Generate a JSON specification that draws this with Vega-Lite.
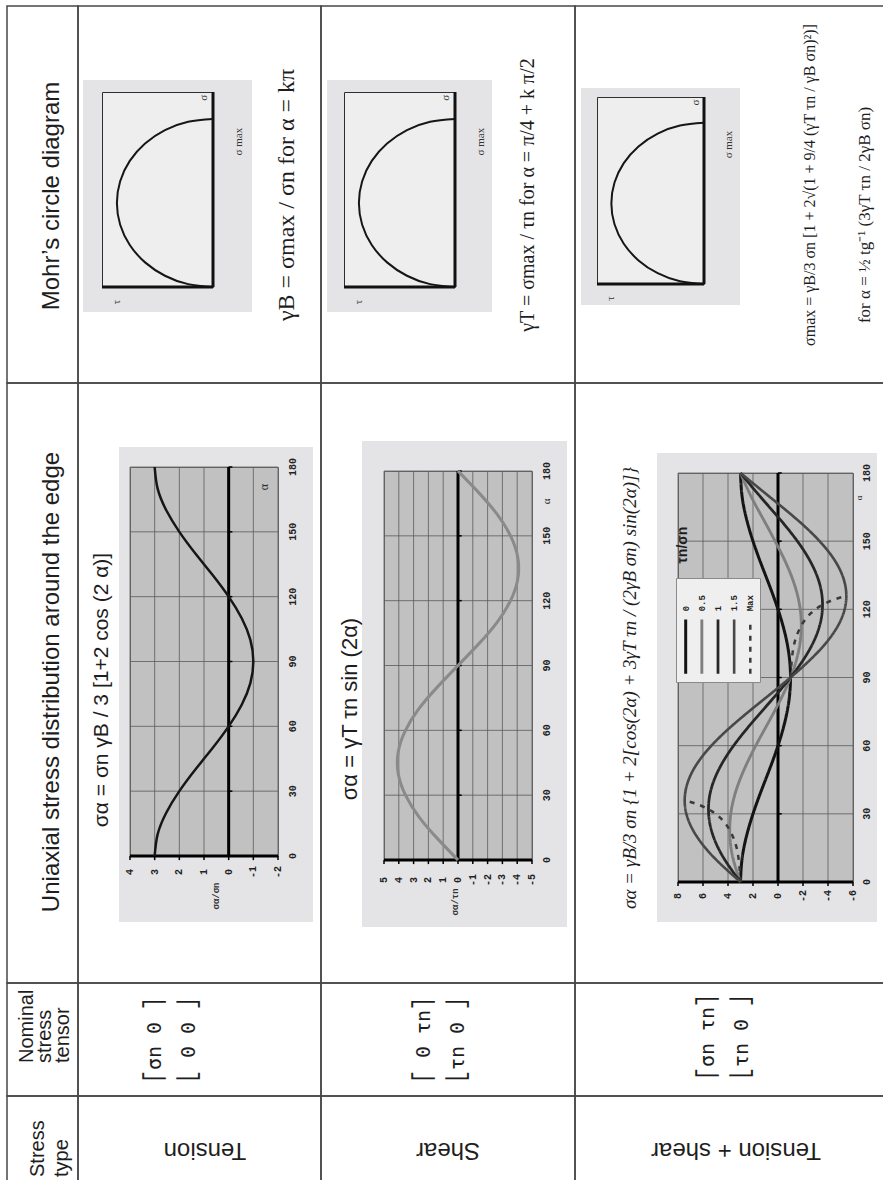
{
"$schema":"https://vega.github.io/schema/vega-lite/v6.json",
"padding":0,
"background":"white",
"config":{"view":{"stroke":null},"font":"Liberation Sans"},
"datasets":{
"e":[],
"g1":[{"v":-2},{"v":-1},{"v":0},{"v":1},{"v":2},{"v":3},{"v":4}],
"g2":[{"v":-5},{"v":-4},{"v":-3},{"v":-2},{"v":-1},{"v":0},{"v":1},{"v":2},{"v":3},{"v":4},{"v":5}],
"g3":[{"v":-6},{"v":-4},{"v":-2},{"v":0},{"v":2},{"v":4},{"v":6},{"v":8}],
"gh":[{"h":0},{"h":30},{"h":60},{"h":90},{"h":120},{"h":150},{"h":180}],
"mohr":[{"t":0,"s":0},{"t":0.259,"s":0.034},{"t":0.5,"s":0.134},{"t":0.707,"s":0.293},{"t":0.866,"s":0.5},{"t":0.966,"s":0.741},{"t":1,"s":1},{"t":0.966,"s":1.259},{"t":0.866,"s":1.5},{"t":0.707,"s":1.707},{"t":0.5,"s":1.866},{"t":0.259,"s":1.966},{"t":0,"s":2}],
"ten":[{"a":0,"s":3},{"a":10,"s":2.88},{"a":20,"s":2.53},{"a":30,"s":2},{"a":40,"s":1.35},{"a":50,"s":0.65},{"a":60,"s":0},{"a":70,"s":-0.53},{"a":80,"s":-0.88},{"a":90,"s":-1},{"a":100,"s":-0.88},{"a":110,"s":-0.53},{"a":120,"s":0},{"a":130,"s":0.65},{"a":140,"s":1.35},{"a":150,"s":2},{"a":160,"s":2.53},{"a":170,"s":2.88},{"a":180,"s":3}],
"shr":[{"a":0,"s":0},{"a":10,"s":1.4},{"a":20,"s":2.64},{"a":30,"s":3.55},{"a":40,"s":4.04},{"a":50,"s":4.04},{"a":60,"s":3.55},{"a":70,"s":2.64},{"a":80,"s":1.4},{"a":90,"s":0},{"a":100,"s":-1.4},{"a":110,"s":-2.64},{"a":120,"s":-3.55},{"a":130,"s":-4.04},{"a":140,"s":-4.04},{"a":150,"s":-3.55},{"a":160,"s":-2.64},{"a":170,"s":-1.4},{"a":180,"s":0}],
"ts":[
{"r":"0","a":0,"s":3},{"r":"0","a":10,"s":2.88},{"r":"0","a":20,"s":2.53},{"r":"0","a":30,"s":2},{"r":"0","a":40,"s":1.35},{"r":"0","a":50,"s":0.65},{"r":"0","a":60,"s":0},{"r":"0","a":70,"s":-0.53},{"r":"0","a":80,"s":-0.88},{"r":"0","a":90,"s":-1},{"r":"0","a":100,"s":-0.88},{"r":"0","a":110,"s":-0.53},{"r":"0","a":120,"s":0},{"r":"0","a":130,"s":0.65},{"r":"0","a":140,"s":1.35},{"r":"0","a":150,"s":2},{"r":"0","a":160,"s":2.53},{"r":"0","a":170,"s":2.88},{"r":"0","a":180,"s":3},
{"r":"0.5","a":0,"s":3},{"r":"0.5","a":10,"s":3.58},{"r":"0.5","a":20,"s":3.85},{"r":"0.5","a":30,"s":3.78},{"r":"0.5","a":40,"s":3.37},{"r":"0.5","a":50,"s":2.67},{"r":"0.5","a":60,"s":1.78},{"r":"0.5","a":70,"s":0.79},{"r":"0.5","a":80,"s":-0.18},{"r":"0.5","a":90,"s":-1},{"r":"0.5","a":100,"s":-1.58},{"r":"0.5","a":110,"s":-1.85},{"r":"0.5","a":120,"s":-1.78},{"r":"0.5","a":130,"s":-1.37},{"r":"0.5","a":140,"s":-0.67},{"r":"0.5","a":150,"s":0.23},{"r":"0.5","a":160,"s":1.21},{"r":"0.5","a":170,"s":2.18},{"r":"0.5","a":180,"s":3},
{"r":"1","a":0,"s":3},{"r":"1","a":10,"s":4.28},{"r":"1","a":20,"s":5.17},{"r":"1","a":30,"s":5.55},{"r":"1","a":40,"s":5.39},{"r":"1","a":50,"s":4.69},{"r":"1","a":60,"s":3.55},{"r":"1","a":70,"s":2.1},{"r":"1","a":80,"s":0.52},{"r":"1","a":90,"s":-1},{"r":"1","a":100,"s":-2.28},{"r":"1","a":110,"s":-3.17},{"r":"1","a":120,"s":-3.55},{"r":"1","a":130,"s":-3.39},{"r":"1","a":140,"s":-2.69},{"r":"1","a":150,"s":-1.55},{"r":"1","a":160,"s":-0.1},{"r":"1","a":170,"s":1.48},{"r":"1","a":180,"s":3},
{"r":"1.5","a":0,"s":3},{"r":"1.5","a":10,"s":4.98},{"r":"1.5","a":20,"s":6.49},{"r":"1.5","a":30,"s":7.33},{"r":"1.5","a":40,"s":7.4},{"r":"1.5","a":50,"s":6.71},{"r":"1.5","a":60,"s":5.33},{"r":"1.5","a":70,"s":3.42},{"r":"1.5","a":80,"s":1.22},{"r":"1.5","a":90,"s":-1},{"r":"1.5","a":100,"s":-2.98},{"r":"1.5","a":110,"s":-4.49},{"r":"1.5","a":120,"s":-5.33},{"r":"1.5","a":130,"s":-5.4},{"r":"1.5","a":140,"s":-4.71},{"r":"1.5","a":150,"s":-3.33},{"r":"1.5","a":160,"s":-1.42},{"r":"1.5","a":170,"s":0.78},{"r":"1.5","a":180,"s":3},
{"r":"Max","b":1,"a":0,"s":3},{"r":"Max","b":1,"a":13.3,"s":3.24},{"r":"Max","b":1,"a":22.5,"s":3.83},{"r":"Max","b":1,"a":28.2,"s":4.61},{"r":"Max","b":1,"a":31.7,"s":5.47},{"r":"Max","b":1,"a":34.1,"s":6.39},{"r":"Max","b":1,"a":36,"s":7.47},
{"r":"Max","b":2,"a":90,"s":-1},{"r":"Max","b":2,"a":103.3,"s":-1.24},{"r":"Max","b":2,"a":112.5,"s":-1.83},{"r":"Max","b":2,"a":118.2,"s":-2.61},{"r":"Max","b":2,"a":121.7,"s":-3.47},{"r":"Max","b":2,"a":124.1,"s":-4.39},{"r":"Max","b":2,"a":126,"s":-5.47}],
"leg":[{"r":"0"},{"r":"0.5"},{"r":"1"},{"r":"1.5"},{"r":"Max"}]
},
"vconcat":[
{"hconcat":[{"data":{"name":"e"},"mark":"point","width":7,"height":1},{"vconcat":[{"data":{"name":"e"},"mark":"point","width":1,"height":6},
 {"vconcat":[
  {"data":{"name":"e"},"mark":"point","width":71,"height":377,"view":{"stroke":"#474747","strokeWidth":1.5}},
  {"data":{"name":"e"},"mark":"point","width":71,"height":600,"view":{"stroke":"#474747","strokeWidth":1.5}},
  {"data":{"name":"e"},"mark":"point","width":71,"height":113,"view":{"stroke":"#474747","strokeWidth":1.5}},
  {"data":{"name":"e"},"mark":"point","width":71,"height":120,"view":{"stroke":"#474747","strokeWidth":1.5}}],"spacing":0,"bounds":"flush"}],"spacing":0,"bounds":"flush"}],"spacing":0,"bounds":"flush"},
{"hconcat":[{"data":{"name":"e"},"mark":"point","width":78,"height":1},{"vconcat":[{"data":{"name":"e"},"mark":"point","width":1,"height":6},
 {"vconcat":[
  {"data":{"name":"e"},"mark":"point","width":243,"height":377,"view":{"stroke":"#474747","strokeWidth":1.5}},
  {"data":{"name":"e"},"mark":"point","width":243,"height":600,"view":{"stroke":"#474747","strokeWidth":1.5}},
  {"data":{"name":"e"},"mark":"point","width":243,"height":113,"view":{"stroke":"#474747","strokeWidth":1.5}},
  {"data":{"name":"e"},"mark":"point","width":243,"height":120,"view":{"stroke":"#474747","strokeWidth":1.5}}],"spacing":0,"bounds":"flush"}],"spacing":0,"bounds":"flush"}],"spacing":0,"bounds":"flush"},
{"hconcat":[{"data":{"name":"e"},"mark":"point","width":321,"height":1},{"vconcat":[{"data":{"name":"e"},"mark":"point","width":1,"height":6},
 {"vconcat":[
  {"data":{"name":"e"},"mark":"point","width":254,"height":377,"view":{"stroke":"#474747","strokeWidth":1.5}},
  {"data":{"name":"e"},"mark":"point","width":254,"height":600,"view":{"stroke":"#474747","strokeWidth":1.5}},
  {"data":{"name":"e"},"mark":"point","width":254,"height":113,"view":{"stroke":"#474747","strokeWidth":1.5}},
  {"data":{"name":"e"},"mark":"point","width":254,"height":120,"view":{"stroke":"#474747","strokeWidth":1.5}}],"spacing":0,"bounds":"flush"}],"spacing":0,"bounds":"flush"}],"spacing":0,"bounds":"flush"},
{"hconcat":[{"data":{"name":"e"},"mark":"point","width":575,"height":1},{"vconcat":[{"data":{"name":"e"},"mark":"point","width":1,"height":6},
 {"vconcat":[
  {"data":{"name":"e"},"mark":"point","width":330,"height":377,"view":{"stroke":"#474747","strokeWidth":1.5}},
  {"data":{"name":"e"},"mark":"point","width":330,"height":600,"view":{"stroke":"#474747","strokeWidth":1.5}},
  {"data":{"name":"e"},"mark":"point","width":330,"height":113,"view":{"stroke":"#474747","strokeWidth":1.5}},
  {"data":{"name":"e"},"mark":"point","width":330,"height":120,"view":{"stroke":"#474747","strokeWidth":1.5}}],"spacing":0,"bounds":"flush"}],"spacing":0,"bounds":"flush"}],"spacing":0,"bounds":"flush"},

{"hconcat":[{"data":{"name":"e"},"mark":"point","width":83,"height":1},{"vconcat":[{"data":{"name":"e"},"mark":"point","width":1,"height":80},{"data":{"name":"e"},"mark":"point","width":169,"height":232,"view":{"fill":"#e4e4e7"}}],"spacing":0,"bounds":"flush"}],"spacing":0,"bounds":"flush"},
{"hconcat":[{"data":{"name":"e"},"mark":"point","width":327,"height":1},{"vconcat":[{"data":{"name":"e"},"mark":"point","width":1,"height":80},{"data":{"name":"e"},"mark":"point","width":165,"height":232,"view":{"fill":"#e4e4e7"}}],"spacing":0,"bounds":"flush"}],"spacing":0,"bounds":"flush"},
{"hconcat":[{"data":{"name":"e"},"mark":"point","width":581,"height":1},{"vconcat":[{"data":{"name":"e"},"mark":"point","width":1,"height":88},{"data":{"name":"e"},"mark":"point","width":159,"height":217,"view":{"fill":"#e4e4e7"}}],"spacing":0,"bounds":"flush"}],"spacing":0,"bounds":"flush"},
{"hconcat":[{"data":{"name":"e"},"mark":"point","width":119,"height":1},{"vconcat":[{"data":{"name":"e"},"mark":"point","width":1,"height":447},{"data":{"name":"e"},"mark":"point","width":194,"height":475,"view":{"fill":"#e4e4e7"}}],"spacing":0,"bounds":"flush"}],"spacing":0,"bounds":"flush"},
{"hconcat":[{"data":{"name":"e"},"mark":"point","width":362,"height":1},{"vconcat":[{"data":{"name":"e"},"mark":"point","width":1,"height":441},{"data":{"name":"e"},"mark":"point","width":205,"height":486,"view":{"fill":"#e4e4e7"}}],"spacing":0,"bounds":"flush"}],"spacing":0,"bounds":"flush"},
{"hconcat":[{"data":{"name":"e"},"mark":"point","width":657,"height":1},{"vconcat":[{"data":{"name":"e"},"mark":"point","width":1,"height":453},{"data":{"name":"e"},"mark":"point","width":220,"height":469,"view":{"fill":"#e4e4e7"}}],"spacing":0,"bounds":"flush"}],"spacing":0,"bounds":"flush"},

{"hconcat":[{"data":{"name":"e"},"mark":"point","width":102,"height":1},{"vconcat":[{"data":{"name":"e"},"mark":"point","width":1,"height":92},
 {"width":111,"height":195,"view":{"fill":"#eeeeee","stroke":"#2e2e2e","strokeWidth":1},"layer":[
  {"data":{"name":"mohr"},"mark":{"type":"line","interpolate":"natural","color":"#161616","strokeWidth":2},"encoding":{"x":{"field":"t","type":"quantitative","scale":{"domain":[0,1.155],"reverse":true,"nice":false,"zero":false},"axis":null},"y":{"field":"s","type":"quantitative","scale":{"domain":[0,2.32],"nice":false,"zero":false},"axis":null},"order":{"field":"s","type":"quantitative"}}},
  {"data":{"values":[{}]},"mark":{"type":"rule","color":"#111","strokeWidth":3},"encoding":{"x":{"datum":0,"axis":null}}},
  {"data":{"values":[{}]},"mark":{"type":"rule","color":"#111","strokeWidth":3},"encoding":{"y":{"datum":0,"axis":null}}},
  {"data":{"values":[{}]},"mark":{"type":"text","text":"σ","angle":270,"font":"Liberation Serif","fontSize":11,"color":"#333"},"encoding":{"x":{"datum":0.09,"axis":null},"y":{"datum":2.25,"axis":null}}},
  {"data":{"values":[{}]},"mark":{"type":"text","text":"τ","angle":270,"font":"Liberation Serif","fontSize":11,"color":"#333"},"encoding":{"x":{"datum":1,"axis":null},"y":{"datum":-0.18,"axis":null}}},
  {"data":{"values":[{}]},"mark":{"type":"text","text":"σ max","angle":270,"font":"Liberation Serif","fontSize":11,"color":"#333"},"encoding":{"x":{"datum":-0.27,"axis":null},"y":{"datum":1.73,"axis":null}}}
 ]}],"spacing":0,"bounds":"flush"}],"spacing":0,"bounds":"flush"},
{"hconcat":[{"data":{"name":"e"},"mark":"point","width":344,"height":1},{"vconcat":[{"data":{"name":"e"},"mark":"point","width":1,"height":92},
 {"width":111,"height":195,"view":{"fill":"#eeeeee","stroke":"#2e2e2e","strokeWidth":1},"layer":[
  {"data":{"name":"mohr"},"mark":{"type":"line","interpolate":"natural","color":"#161616","strokeWidth":2},"encoding":{"x":{"field":"t","type":"quantitative","scale":{"domain":[0,1.155],"reverse":true,"nice":false,"zero":false},"axis":null},"y":{"field":"s","type":"quantitative","scale":{"domain":[0,2.32],"nice":false,"zero":false},"axis":null},"order":{"field":"s","type":"quantitative"}}},
  {"data":{"values":[{}]},"mark":{"type":"rule","color":"#111","strokeWidth":3},"encoding":{"x":{"datum":0,"axis":null}}},
  {"data":{"values":[{}]},"mark":{"type":"rule","color":"#111","strokeWidth":3},"encoding":{"y":{"datum":0,"axis":null}}},
  {"data":{"values":[{}]},"mark":{"type":"text","text":"σ","angle":270,"font":"Liberation Serif","fontSize":11,"color":"#333"},"encoding":{"x":{"datum":0.09,"axis":null},"y":{"datum":2.25,"axis":null}}},
  {"data":{"values":[{}]},"mark":{"type":"text","text":"τ","angle":270,"font":"Liberation Serif","fontSize":11,"color":"#333"},"encoding":{"x":{"datum":1,"axis":null},"y":{"datum":-0.18,"axis":null}}},
  {"data":{"values":[{}]},"mark":{"type":"text","text":"σ max","angle":270,"font":"Liberation Serif","fontSize":11,"color":"#333"},"encoding":{"x":{"datum":-0.27,"axis":null},"y":{"datum":1.73,"axis":null}}}
 ]}],"spacing":0,"bounds":"flush"}],"spacing":0,"bounds":"flush"},
{"hconcat":[{"data":{"name":"e"},"mark":"point","width":597,"height":1},{"vconcat":[{"data":{"name":"e"},"mark":"point","width":1,"height":97},
 {"width":107,"height":187,"view":{"fill":"#eeeeee","stroke":"#2e2e2e","strokeWidth":1},"layer":[
  {"data":{"name":"mohr"},"mark":{"type":"line","interpolate":"natural","color":"#161616","strokeWidth":2},"encoding":{"x":{"field":"t","type":"quantitative","scale":{"domain":[0,1.155],"reverse":true,"nice":false,"zero":false},"axis":null},"y":{"field":"s","type":"quantitative","scale":{"domain":[0,2.32],"nice":false,"zero":false},"axis":null},"order":{"field":"s","type":"quantitative"}}},
  {"data":{"values":[{}]},"mark":{"type":"rule","color":"#111","strokeWidth":3},"encoding":{"x":{"datum":0,"axis":null}}},
  {"data":{"values":[{}]},"mark":{"type":"rule","color":"#111","strokeWidth":3},"encoding":{"y":{"datum":0,"axis":null}}},
  {"data":{"values":[{}]},"mark":{"type":"text","text":"σ","angle":270,"font":"Liberation Serif","fontSize":11,"color":"#333"},"encoding":{"x":{"datum":0.09,"axis":null},"y":{"datum":2.25,"axis":null}}},
  {"data":{"values":[{}]},"mark":{"type":"text","text":"τ","angle":270,"font":"Liberation Serif","fontSize":11,"color":"#333"},"encoding":{"x":{"datum":1,"axis":null},"y":{"datum":-0.18,"axis":null}}},
  {"data":{"values":[{}]},"mark":{"type":"text","text":"σ max","angle":270,"font":"Liberation Serif","fontSize":11,"color":"#333"},"encoding":{"x":{"datum":-0.27,"axis":null},"y":{"datum":1.73,"axis":null}}}
 ]}],"spacing":0,"bounds":"flush"}],"spacing":0,"bounds":"flush"},

{"hconcat":[{"data":{"name":"e"},"mark":"point","width":130,"height":1},{"vconcat":[{"data":{"name":"e"},"mark":"point","width":1,"height":467},
 {"width":148,"height":389,"view":{"fill":"#c1c1c1","stroke":"#6a6a6a","strokeWidth":1},"layer":[
  {"data":{"name":"g1"},"mark":{"type":"rule","color":"#5a5a5a","strokeWidth":0.8},"encoding":{"x":{"field":"v","type":"quantitative","scale":{"domain":[-2,4],"reverse":true,"nice":false,"zero":false},"axis":null}}},
  {"data":{"name":"gh"},"mark":{"type":"rule","color":"#5a5a5a","strokeWidth":0.8},"encoding":{"y":{"field":"h","type":"quantitative","scale":{"domain":[0,180],"nice":false,"zero":false},"axis":null}}},
  {"data":{"values":[{}]},"mark":{"type":"rule","color":"#000","strokeWidth":3},"encoding":{"x":{"datum":0,"axis":null}}},
  {"data":{"name":"gh"},"mark":{"type":"rule","color":"#000","strokeWidth":1.5},"encoding":{"y":{"field":"h","type":"quantitative","axis":null},"x":{"datum":0,"axis":null},"x2":{"datum":-0.15}}},
  {"data":{"values":[{}]},"mark":{"type":"rule","color":"#000","strokeWidth":3},"encoding":{"y":{"datum":0,"axis":null}}},
  {"data":{"name":"g1"},"mark":{"type":"rule","color":"#000","strokeWidth":1.5},"encoding":{"x":{"field":"v","type":"quantitative","axis":null},"y":{"datum":0,"axis":null},"y2":{"datum":-1.9}}},
  {"data":{"name":"ten"},"mark":{"type":"line","interpolate":"natural","color":"#161616","strokeWidth":2.5},"encoding":{"x":{"field":"s","type":"quantitative","axis":null},"y":{"field":"a","type":"quantitative","axis":null},"order":{"field":"a","type":"quantitative"}}},
  {"data":{"name":"g1"},"mark":{"type":"text","angle":270,"font":"Liberation Mono","fontWeight":"bold","fontSize":10,"color":"#222"},"encoding":{"x":{"field":"v","type":"quantitative","axis":null},"y":{"datum":-7.4,"axis":null},"text":{"field":"v","type":"nominal"}}},
  {"data":{"name":"gh"},"mark":{"type":"text","angle":270,"font":"Liberation Mono","fontWeight":"bold","fontSize":10,"color":"#222"},"encoding":{"x":{"datum":-2.61,"axis":null},"y":{"field":"h","type":"quantitative","axis":null},"text":{"field":"h","type":"nominal"}}},
  {"data":{"values":[{}]},"mark":{"type":"text","text":"σα/σn","angle":270,"font":"Liberation Mono","fontWeight":"bold","fontSize":9,"color":"#333"},"encoding":{"x":{"datum":0.5,"axis":null},"y":{"datum":-18.5,"axis":null}}},
  {"data":{"values":[{}]},"mark":{"type":"text","text":"α","angle":270,"font":"Liberation Serif","fontSize":12,"color":"#222"},"encoding":{"x":{"datum":-1.45,"axis":null},"y":{"datum":170.7,"axis":null}}}
 ]}],"spacing":0,"bounds":"flush"}],"spacing":0,"bounds":"flush"},
{"hconcat":[{"data":{"name":"e"},"mark":"point","width":384,"height":1},{"vconcat":[{"data":{"name":"e"},"mark":"point","width":1,"height":471},
 {"width":148,"height":389,"view":{"fill":"#c1c1c1","stroke":"#6a6a6a","strokeWidth":1},"layer":[
  {"data":{"name":"g2"},"mark":{"type":"rule","color":"#5a5a5a","strokeWidth":0.8},"encoding":{"x":{"field":"v","type":"quantitative","scale":{"domain":[-5,5],"reverse":true,"nice":false,"zero":false},"axis":null}}},
  {"data":{"name":"gh"},"mark":{"type":"rule","color":"#5a5a5a","strokeWidth":0.8},"encoding":{"y":{"field":"h","type":"quantitative","scale":{"domain":[0,180],"nice":false,"zero":false},"axis":null}}},
  {"data":{"values":[{}]},"mark":{"type":"rule","color":"#000","strokeWidth":3},"encoding":{"x":{"datum":0,"axis":null}}},
  {"data":{"name":"gh"},"mark":{"type":"rule","color":"#000","strokeWidth":1.5},"encoding":{"y":{"field":"h","type":"quantitative","axis":null},"x":{"datum":0,"axis":null},"x2":{"datum":-0.25}}},
  {"data":{"values":[{}]},"mark":{"type":"rule","color":"#000","strokeWidth":3},"encoding":{"y":{"datum":0,"axis":null}}},
  {"data":{"name":"g2"},"mark":{"type":"rule","color":"#000","strokeWidth":1.5},"encoding":{"x":{"field":"v","type":"quantitative","axis":null},"y":{"datum":0,"axis":null},"y2":{"datum":-1.9}}},
  {"data":{"name":"shr"},"mark":{"type":"line","interpolate":"natural","color":"#8a8a8a","strokeWidth":3},"encoding":{"x":{"field":"s","type":"quantitative","axis":null},"y":{"field":"a","type":"quantitative","axis":null},"order":{"field":"a","type":"quantitative"}}},
  {"data":{"name":"g2"},"mark":{"type":"text","angle":270,"font":"Liberation Mono","fontWeight":"bold","fontSize":10,"color":"#222"},"encoding":{"x":{"field":"v","type":"quantitative","axis":null},"y":{"datum":-9.25,"axis":null},"text":{"field":"v","type":"nominal"}}},
  {"data":{"name":"gh"},"mark":{"type":"text","angle":270,"font":"Liberation Mono","fontWeight":"bold","fontSize":10,"color":"#222"},"encoding":{"x":{"datum":-6.01,"axis":null},"y":{"field":"h","type":"quantitative","axis":null},"text":{"field":"h","type":"nominal"}}},
  {"data":{"values":[{}]},"mark":{"type":"text","text":"σα/τn","angle":270,"font":"Liberation Mono","fontWeight":"bold","fontSize":9,"color":"#333"},"encoding":{"x":{"datum":0.2,"axis":null},"y":{"datum":-19.4,"axis":null}}},
  {"data":{"values":[{}]},"mark":{"type":"text","text":"α","angle":270,"font":"Liberation Serif","fontSize":11,"color":"#222"},"encoding":{"x":{"datum":-6.0,"axis":null},"y":{"datum":166,"axis":null}}}
 ]}],"spacing":0,"bounds":"flush"}],"spacing":0,"bounds":"flush"},
{"hconcat":[{"data":{"name":"e"},"mark":"point","width":678,"height":1},{"vconcat":[{"data":{"name":"e"},"mark":"point","width":1,"height":473},
 {"width":175,"height":409,"view":{"fill":"#c1c1c1","stroke":"#6a6a6a","strokeWidth":1},"layer":[
  {"data":{"name":"g3"},"mark":{"type":"rule","color":"#5a5a5a","strokeWidth":0.8},"encoding":{"x":{"field":"v","type":"quantitative","scale":{"domain":[-6,8],"reverse":true,"nice":false,"zero":false},"axis":null}}},
  {"data":{"name":"gh"},"mark":{"type":"rule","color":"#5a5a5a","strokeWidth":0.8},"encoding":{"y":{"field":"h","type":"quantitative","scale":{"domain":[0,180],"nice":false,"zero":false},"axis":null}}},
  {"data":{"values":[{}]},"mark":{"type":"rule","color":"#000","strokeWidth":3},"encoding":{"x":{"datum":0,"axis":null}}},
  {"data":{"name":"gh"},"mark":{"type":"rule","color":"#000","strokeWidth":1.5},"encoding":{"y":{"field":"h","type":"quantitative","axis":null},"x":{"datum":0,"axis":null},"x2":{"datum":-0.3}}},
  {"data":{"values":[{}]},"mark":{"type":"rule","color":"#000","strokeWidth":3},"encoding":{"y":{"datum":0,"axis":null}}},
  {"data":{"name":"g3"},"mark":{"type":"rule","color":"#000","strokeWidth":1.5},"encoding":{"x":{"field":"v","type":"quantitative","axis":null},"y":{"datum":0,"axis":null},"y2":{"datum":-1.76}}},
  {"data":{"name":"ts"},"mark":{"type":"line","interpolate":"natural"},"encoding":{
   "x":{"field":"s","type":"quantitative","axis":null},
   "y":{"field":"a","type":"quantitative","axis":null},
   "color":{"field":"r","type":"nominal","scale":{"domain":["0","0.5","1","1.5","Max"],"range":["#141414","#7f7f7f","#262626","#484848","#3a3a3a"]},"legend":null},
   "strokeDash":{"field":"r","type":"nominal","scale":{"domain":["0","0.5","1","1.5","Max"],"range":[[1,0],[1,0],[1,0],[1,0],[5,6]]},"legend":null},
   "strokeWidth":{"field":"r","type":"nominal","scale":{"domain":["0","0.5","1","1.5","Max"],"range":[3,2.5,2.5,2.5,2]},"legend":null},
   "detail":{"field":"b","type":"nominal"},
   "order":{"field":"a","type":"quantitative"}}},
  {"data":{"name":"g3"},"mark":{"type":"text","angle":270,"font":"Liberation Mono","fontWeight":"bold","fontSize":10,"color":"#222"},"encoding":{"x":{"field":"v","type":"quantitative","axis":null},"y":{"datum":-6.2,"axis":null},"text":{"field":"v","type":"nominal"}}},
  {"data":{"name":"gh"},"mark":{"type":"text","angle":270,"font":"Liberation Mono","fontWeight":"bold","fontSize":10,"color":"#222"},"encoding":{"x":{"datum":-7.12,"axis":null},"y":{"field":"h","type":"quantitative","axis":null},"text":{"field":"h","type":"nominal"}}},
  {"data":{"values":[{}]},"mark":{"type":"text","text":"α","angle":270,"font":"Liberation Serif","fontSize":9,"color":"#222"},"encoding":{"x":{"datum":-6.5,"axis":null},"y":{"datum":169,"axis":null}}}
 ]}],"spacing":0,"bounds":"flush"}],"spacing":0,"bounds":"flush"},

{"hconcat":[{"data":{"name":"e"},"mark":"point","width":676,"height":1},{"vconcat":[{"data":{"name":"e"},"mark":"point","width":1,"height":578},
 {"width":84,"height":104,"view":{"fill":"#efefef","stroke":"#8a8a8a","strokeWidth":1},"data":{"name":"leg"},"layer":[
  {"mark":{"type":"rule"},"encoding":{
   "x":{"field":"r","type":"nominal","sort":null,"scale":{"type":"point","padding":0.6},"axis":null},
   "y":{"datum":0.08,"scale":{"domain":[0,1]},"axis":null},"y2":{"datum":0.6},
   "color":{"field":"r","type":"nominal","scale":{"domain":["0","0.5","1","1.5","Max"],"range":["#141414","#7f7f7f","#262626","#484848","#3a3a3a"]},"legend":null},
   "strokeDash":{"field":"r","type":"nominal","scale":{"domain":["0","0.5","1","1.5","Max"],"range":[[1,0],[1,0],[1,0],[1,0],[5,6]]},"legend":null},
   "strokeWidth":{"field":"r","type":"nominal","scale":{"domain":["0","0.5","1","1.5","Max"],"range":[3,2.5,2.5,2.5,2]},"legend":null}}},
  {"mark":{"type":"text","angle":270,"align":"left","baseline":"middle","font":"Liberation Mono","fontWeight":"bold","fontSize":9,"color":"#222"},"encoding":{
   "x":{"field":"r","type":"nominal","sort":null,"axis":null},"y":{"datum":0.68,"axis":null},"text":{"field":"r","type":"nominal"}}}
 ]}],"spacing":0,"bounds":"flush"}],"spacing":0,"bounds":"flush"},

{"hconcat":[{"data":{"name":"e"},"mark":"point","width":51,"height":1},{"vconcat":[{"data":{"name":"e"},"mark":"point","width":1,"height":195},
 {"width":2,"height":2,"data":{"values":[{"t":"Mohr’s circle diagram"}]},"mark":{"type":"text","angle":270,"font":"Liberation Sans","fontSize":24,"color":"#1e1e1e"},"encoding":{"text":{"field":"t","type":"nominal"}}}],"spacing":0,"bounds":"flush"}],"spacing":0,"bounds":"flush"},
{"hconcat":[{"data":{"name":"e"},"mark":"point","width":51,"height":1},{"vconcat":[{"data":{"name":"e"},"mark":"point","width":1,"height":681},
 {"width":2,"height":2,"data":{"values":[{"t":"Uniaxial stress distribution around the edge"}]},"mark":{"type":"text","angle":270,"font":"Liberation Sans","fontSize":24,"color":"#1e1e1e"},"encoding":{"text":{"field":"t","type":"nominal"}}}],"spacing":0,"bounds":"flush"}],"spacing":0,"bounds":"flush"},
{"hconcat":[{"data":{"name":"e"},"mark":"point","width":26,"height":1},{"vconcat":[{"data":{"name":"e"},"mark":"point","width":1,"height":1062},
 {"width":2,"height":2,"data":{"values":[{"t":["Nominal","stress","tensor"]}]},"mark":{"type":"text","angle":270,"align":"left","baseline":"middle","lineHeight":18,"font":"Liberation Sans","fontSize":20,"color":"#1e1e1e"},"encoding":{"text":{"field":"t","type":"nominal"}}}],"spacing":0,"bounds":"flush"}],"spacing":0,"bounds":"flush"},
{"hconcat":[{"data":{"name":"e"},"mark":"point","width":37,"height":1},{"vconcat":[{"data":{"name":"e"},"mark":"point","width":1,"height":1176},
 {"width":2,"height":2,"data":{"values":[{"t":["Stress","type"]}]},"mark":{"type":"text","angle":270,"align":"left","baseline":"middle","lineHeight":24,"font":"Liberation Sans","fontSize":20,"color":"#1e1e1e"},"encoding":{"text":{"field":"t","type":"nominal"}}}],"spacing":0,"bounds":"flush"}],"spacing":0,"bounds":"flush"},
{"hconcat":[{"data":{"name":"e"},"mark":"point","width":204,"height":1},{"vconcat":[{"data":{"name":"e"},"mark":"point","width":1,"height":1149},
 {"width":2,"height":2,"data":{"values":[{"t":"Tension"}]},"mark":{"type":"text","angle":180,"font":"Liberation Sans","fontSize":24,"color":"#1e1e1e"},"encoding":{"text":{"field":"t","type":"nominal"}}}],"spacing":0,"bounds":"flush"}],"spacing":0,"bounds":"flush"},
{"hconcat":[{"data":{"name":"e"},"mark":"point","width":447,"height":1},{"vconcat":[{"data":{"name":"e"},"mark":"point","width":1,"height":1149},
 {"width":2,"height":2,"data":{"values":[{"t":"Shear"}]},"mark":{"type":"text","angle":180,"font":"Liberation Sans","fontSize":24,"color":"#1e1e1e"},"encoding":{"text":{"field":"t","type":"nominal"}}}],"spacing":0,"bounds":"flush"}],"spacing":0,"bounds":"flush"},
{"hconcat":[{"data":{"name":"e"},"mark":"point","width":735,"height":1},{"vconcat":[{"data":{"name":"e"},"mark":"point","width":1,"height":1149},
 {"width":2,"height":2,"data":{"values":[{"t":"Tension + shear"}]},"mark":{"type":"text","angle":180,"font":"Liberation Sans","fontSize":24,"color":"#1e1e1e"},"encoding":{"text":{"field":"t","type":"nominal"}}}],"spacing":0,"bounds":"flush"}],"spacing":0,"bounds":"flush"},
{"hconcat":[{"data":{"name":"e"},"mark":"point","width":154,"height":1},{"vconcat":[{"data":{"name":"e"},"mark":"point","width":1,"height":1039},
 {"width":2,"height":2,"data":{"values":[{"t":["⎡σn  0 ⎤","⎣ 0  0 ⎦"]}]},"mark":{"type":"text","angle":270,"lineHeight":34,"font":"DejaVu Sans Mono","fontSize":20,"color":"#1e1e1e"},"encoding":{"text":{"field":"t","type":"nominal"}}}],"spacing":0,"bounds":"flush"}],"spacing":0,"bounds":"flush"},
{"hconcat":[{"data":{"name":"e"},"mark":"point","width":423,"height":1},{"vconcat":[{"data":{"name":"e"},"mark":"point","width":1,"height":1039},
 {"width":2,"height":2,"data":{"values":[{"t":["⎡ 0  τn⎤","⎣τn  0 ⎦"]}]},"mark":{"type":"text","angle":270,"lineHeight":34,"font":"DejaVu Sans Mono","fontSize":20,"color":"#1e1e1e"},"encoding":{"text":{"field":"t","type":"nominal"}}}],"spacing":0,"bounds":"flush"}],"spacing":0,"bounds":"flush"},
{"hconcat":[{"data":{"name":"e"},"mark":"point","width":707,"height":1},{"vconcat":[{"data":{"name":"e"},"mark":"point","width":1,"height":1036},
 {"width":2,"height":2,"data":{"values":[{"t":["⎡σn  τn⎤","⎣τn  0 ⎦"]}]},"mark":{"type":"text","angle":270,"lineHeight":34,"font":"DejaVu Sans Mono","fontSize":20,"color":"#1e1e1e"},"encoding":{"text":{"field":"t","type":"nominal"}}}],"spacing":0,"bounds":"flush"}],"spacing":0,"bounds":"flush"},
{"hconcat":[{"data":{"name":"e"},"mark":"point","width":286,"height":1},{"vconcat":[{"data":{"name":"e"},"mark":"point","width":1,"height":194},
 {"width":2,"height":2,"data":{"values":[{"t":"γB = σmax / σn   for α = kπ"}]},"mark":{"type":"text","angle":270,"font":"Liberation Serif","fontSize":24,"color":"#1e1e1e"},"encoding":{"text":{"field":"t","type":"nominal"}}}],"spacing":0,"bounds":"flush"}],"spacing":0,"bounds":"flush"},
{"hconcat":[{"data":{"name":"e"},"mark":"point","width":527,"height":1},{"vconcat":[{"data":{"name":"e"},"mark":"point","width":1,"height":194},
 {"width":2,"height":2,"data":{"values":[{"t":"γT = σmax / τn  for α = π/4 + k π/2"}]},"mark":{"type":"text","angle":270,"font":"Liberation Serif","fontSize":20,"color":"#1e1e1e"},"encoding":{"text":{"field":"t","type":"nominal"}}}],"spacing":0,"bounds":"flush"}],"spacing":0,"bounds":"flush"},
{"hconcat":[{"data":{"name":"e"},"mark":"point","width":809,"height":1},{"vconcat":[{"data":{"name":"e"},"mark":"point","width":1,"height":184},
 {"width":2,"height":2,"data":{"values":[{"t":"σmax = γB/3 σn [1 + 2√(1 + 9/4 (γT τn / γB σn)²)]"}]},"mark":{"type":"text","angle":270,"font":"Liberation Serif","fontSize":16,"color":"#1e1e1e"},"encoding":{"text":{"field":"t","type":"nominal"}}}],"spacing":0,"bounds":"flush"}],"spacing":0,"bounds":"flush"},
{"hconcat":[{"data":{"name":"e"},"mark":"point","width":864,"height":1},{"vconcat":[{"data":{"name":"e"},"mark":"point","width":1,"height":214},
 {"width":2,"height":2,"data":{"values":[{"t":"for α = ½ tg⁻¹ (3γT τn / 2γB σn)"}]},"mark":{"type":"text","angle":270,"font":"Liberation Serif","fontSize":17,"color":"#1e1e1e"},"encoding":{"text":{"field":"t","type":"nominal"}}}],"spacing":0,"bounds":"flush"}],"spacing":0,"bounds":"flush"},
{"hconcat":[{"data":{"name":"e"},"mark":"point","width":101,"height":1},{"vconcat":[{"data":{"name":"e"},"mark":"point","width":1,"height":689},
 {"width":2,"height":2,"data":{"values":[{"t":"σα = σn γB / 3 [1+2 cos (2 α)]"}]},"mark":{"type":"text","angle":270,"font":"Liberation Sans","fontSize":21,"color":"#1e1e1e"},"encoding":{"text":{"field":"t","type":"nominal"}}}],"spacing":0,"bounds":"flush"}],"spacing":0,"bounds":"flush"},
{"hconcat":[{"data":{"name":"e"},"mark":"point","width":349,"height":1},{"vconcat":[{"data":{"name":"e"},"mark":"point","width":1,"height":708},
 {"width":2,"height":2,"data":{"values":[{"t":"σα = γT τn sin (2α)"}]},"mark":{"type":"text","angle":270,"font":"Liberation Sans","fontSize":22,"color":"#1e1e1e"},"encoding":{"text":{"field":"t","type":"nominal"}}}],"spacing":0,"bounds":"flush"}],"spacing":0,"bounds":"flush"},
{"hconcat":[{"data":{"name":"e"},"mark":"point","width":629,"height":1},{"vconcat":[{"data":{"name":"e"},"mark":"point","width":1,"height":687},
 {"width":2,"height":2,"data":{"values":[{"t":"σα = γB/3 σn {1 + 2[cos(2α) + 3γT τn / (2γB σn) sin(2α)]}"}]},"mark":{"type":"text","angle":270,"font":"Liberation Serif","fontStyle":"italic","fontSize":19,"color":"#1e1e1e"},"encoding":{"text":{"field":"t","type":"nominal"}}}],"spacing":0,"bounds":"flush"}],"spacing":0,"bounds":"flush"},
{"hconcat":[{"data":{"name":"e"},"mark":"point","width":682,"height":1},{"vconcat":[{"data":{"name":"e"},"mark":"point","width":1,"height":544},
 {"width":2,"height":2,"data":{"values":[{"t":"τn/σn"}]},"mark":{"type":"text","angle":270,"font":"Liberation Sans","fontWeight":"bold","fontSize":14,"color":"#1e1e1e"},"encoding":{"text":{"field":"t","type":"nominal"}}}],"spacing":0,"bounds":"flush"}],"spacing":0,"bounds":"flush"}
],
"spacing":0,
"bounds":"flush"
}
